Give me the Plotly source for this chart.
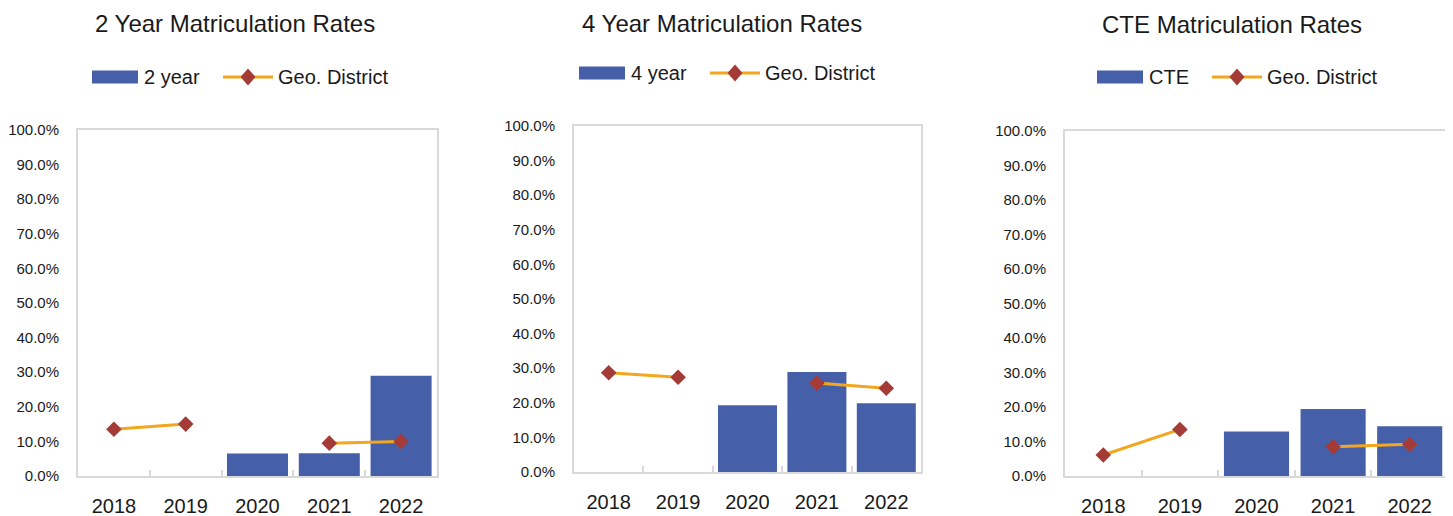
import plotly.graph_objects as go

years = ["2018", "2019", "2020", "2021", "2022"]

two_year = [None, None, 0.065, 0.066, 0.290]
two_year_geo = [0.135, 0.150, None, 0.095, 0.100]

four_year = [None, None, 0.193, 0.289, 0.199]
four_year_geo = [0.287, 0.274, None, 0.257, 0.242]

cte = [None, None, 0.129, 0.194, 0.144]
cte_geo = [0.061, 0.135, None, 0.085, 0.092]

panels = [
    ("2 Year Matriculation Rates", "2 year", two_year, two_year_geo),
    ("4 Year Matriculation Rates", "4 year", four_year, four_year_geo),
    ("CTE Matriculation Rates", "CTE", cte, cte_geo),
]

W, H = 1453, 516
OFF = 8  # page body margin
FONT = "Liberation Sans, Arial, sans-serif"
TEXT = "#1a1a1a"
BAR_COLOR = "#4560A9"
LINE_COLOR = "#F2A71E"
MARKER_COLOR = "#A53B36"
AXIS_COLOR = "#D9D9D9"


def px(x):
    return (x - OFF) / W


def py(y):
    return 1 - (y - OFF) / H


# plot boxes in screen pixels: (left, right, top, bottom)
boxes = [(78, 437, 130, 476), (574, 921, 126, 472), (1065, 1448, 131, 476)]
# title: centre x, top of text box
title_pos = [(235, 8), (722, 8), (1232, 9)]
# legend: bar key left, line key left, y centre
legend_pos = [(92, 223, 77), (579, 710, 73), (1097, 1212, 77)]

fig = go.Figure()
shapes, annotations = [], []
for i, (title, name, bars, geo) in enumerate(panels):
    sfx = "" if i == 0 else str(i + 1)
    fig.add_trace(go.Bar(
        x=years, y=bars, name=name, marker_color=BAR_COLOR,
        xaxis="x" + sfx, yaxis="y" + sfx, showlegend=False,
    ))
    fig.add_trace(go.Scatter(
        x=years, y=geo, name="Geo. District", mode="lines+markers",
        line=dict(color=LINE_COLOR, width=3),
        marker=dict(symbol="diamond", size=12, color=MARKER_COLOR),
        xaxis="x" + sfx, yaxis="y" + sfx, showlegend=False,
    ))

    l, r, t, b = boxes[i]
    fig.layout["xaxis" + sfx] = dict(
        domain=[px(l), px(r)], anchor="y" + sfx, type="category",
        automargin=False,
        showline=True, mirror=True, linecolor=AXIS_COLOR, linewidth=2,
        ticks="inside", tickson="boundaries", ticklen=6, tickcolor=AXIS_COLOR,
        tickwidth=2, showgrid=False, tickfont=dict(size=20, color=TEXT),
        ticklabelstandoff=11,
    )
    fig.layout["yaxis" + sfx] = dict(
        domain=[py(b), py(t)], anchor="x" + sfx, automargin=False,
        range=[0, 1], dtick=0.1, tickformat=".1%",
        showline=True, mirror=True, linecolor=AXIS_COLOR, linewidth=2,
        showgrid=False, zeroline=False, ticks="",
        tickfont=dict(size=15, color=TEXT), ticklabelstandoff=14,
    )

    tx, ty = title_pos[i]
    annotations.append(dict(
        text=title, x=px(tx), y=min(py(ty), 1), xref="paper", yref="paper",
        xanchor="center", yanchor="top", showarrow=False,
        font=dict(size=24, color=TEXT),
    ))

    # legend keys
    bx, lx, ly = legend_pos[i]
    shapes.append(dict(
        type="rect", xref="paper", yref="paper", line_width=0,
        fillcolor=BAR_COLOR,
        x0=px(bx), x1=px(bx + 46), y0=py(ly + 6.5), y1=py(ly - 6.5),
    ))
    annotations.append(dict(
        text=name, x=px(bx + 50), y=py(ly), xref="paper", yref="paper",
        xanchor="left", yanchor="middle", showarrow=False,
        font=dict(size=20, color=TEXT),
    ))
    shapes.append(dict(
        type="line", xref="paper", yref="paper",
        line=dict(color=LINE_COLOR, width=3),
        x0=px(lx), x1=px(lx + 50), y0=py(ly), y1=py(ly),
    ))
    cx = lx + 25
    shapes.append(dict(
        type="path", xref="paper", yref="paper", line_width=0,
        fillcolor=MARKER_COLOR,
        path=(f"M {px(cx - 7.5)} {py(ly)} L {px(cx)} {py(ly - 8.5)} "
              f"L {px(cx + 7.5)} {py(ly)} L {px(cx)} {py(ly + 8.5)} Z"),
    ))
    annotations.append(dict(
        text="Geo. District", x=px(lx + 53), y=py(ly), xref="paper",
        yref="paper", xanchor="left", yanchor="middle", showarrow=False,
        font=dict(size=20, color=TEXT),
    ))

fig.update_layout(
    template="none",
    width=W, height=H, margin=dict(l=0, r=0, t=0, b=0, pad=0),
    paper_bgcolor="white", plot_bgcolor="white",
    font=dict(family=FONT, color=TEXT),
    bargap=0.15, showlegend=False,
    shapes=shapes, annotations=annotations,
)

fig.write_html("out.html")
